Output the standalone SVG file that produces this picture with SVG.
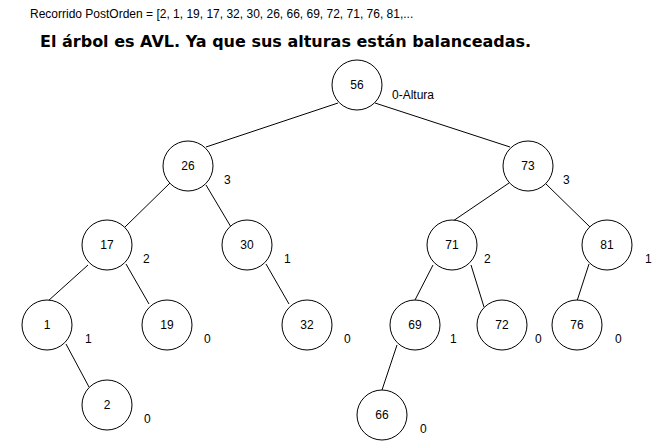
<svg xmlns="http://www.w3.org/2000/svg" width="653" height="441" viewBox="0 0 653 441">
<style>
.n circle{fill:#fff;stroke:#000;stroke-width:1}
.n text{font-family:"Liberation Sans",Arial,sans-serif;font-size:12px;text-anchor:middle;dominant-baseline:central;fill:#000}
.h{font-family:"Liberation Sans",Arial,sans-serif;font-size:12px;fill:#000}
#edges line{stroke:#000;stroke-width:1}
</style>
<rect width="653" height="441" fill="#fff"/>
<text x="30" y="18" style="font-family:'Liberation Sans',Arial,sans-serif;font-size:12px">Recorrido PostOrden = [2, 1, 19, 17, 32, 30, 26, 66, 69, 72, 71, 76, 81,...</text>
<text x="40" y="47" style="font-family:'DejaVu Sans',sans-serif;font-size:16px;font-weight:bold">El árbol es AVL. Ya que sus alturas están balanceadas.</text>
<g id="edges">
<line x1="338" y1="103" x2="206" y2="147"/>
<line x1="375" y1="103" x2="510" y2="147"/>
<line x1="170" y1="183" x2="125" y2="227"/>
<line x1="206" y1="185" x2="231" y2="227"/>
<line x1="509" y1="183" x2="453" y2="221"/>
<line x1="545" y1="183" x2="590" y2="227"/>
<line x1="88" y1="265" x2="48" y2="301"/>
<line x1="126" y1="264" x2="149" y2="304"/>
<line x1="266" y1="264" x2="289" y2="304"/>
<line x1="433" y1="265" x2="415" y2="300"/>
<line x1="471" y1="265" x2="484" y2="307"/>
<line x1="589" y1="264" x2="577" y2="301"/>
<line x1="66" y1="344" x2="89" y2="387"/>
<line x1="397" y1="345" x2="382" y2="390"/>
</g>
<g id="n56" class="n"><circle cx="357" cy="85" r="25"/><text x="357" y="85">56</text></g>
<g id="n26" class="n"><circle cx="188" cy="166" r="25"/><text x="188" y="166">26</text></g>
<g id="n73" class="n"><circle cx="528" cy="166" r="25"/><text x="528" y="166">73</text></g>
<g id="n17" class="n"><circle cx="107" cy="245" r="25"/><text x="107" y="245">17</text></g>
<g id="n30" class="n"><circle cx="247" cy="245" r="25"/><text x="247" y="245">30</text></g>
<g id="n71" class="n"><circle cx="452" cy="245" r="25"/><text x="452" y="245">71</text></g>
<g id="n81" class="n"><circle cx="607" cy="245" r="25"/><text x="607" y="245">81</text></g>
<g id="n1" class="n"><circle cx="47" cy="325" r="25"/><text x="47" y="325">1</text></g>
<g id="n19" class="n"><circle cx="167" cy="325" r="25"/><text x="167" y="325">19</text></g>
<g id="n32" class="n"><circle cx="307" cy="325" r="25"/><text x="307" y="325">32</text></g>
<g id="n69" class="n"><circle cx="415" cy="325" r="25"/><text x="415" y="325">69</text></g>
<g id="n72" class="n"><circle cx="502" cy="325" r="25"/><text x="502" y="325">72</text></g>
<g id="n76" class="n"><circle cx="577" cy="325" r="25"/><text x="577" y="325">76</text></g>
<g id="n2" class="n"><circle cx="107" cy="405" r="25"/><text x="107" y="405">2</text></g>
<g id="n66" class="n"><circle cx="382" cy="415" r="25"/><text x="382" y="415">66</text></g>
<g id="heights">
<text class="h" x="392" y="99">0-Altura</text>
<text class="h" x="224" y="184">3</text>
<text class="h" x="563" y="184">3</text>
<text class="h" x="143" y="263">2</text>
<text class="h" x="284" y="263">1</text>
<text class="h" x="484" y="263">2</text>
<text class="h" x="645" y="263">1</text>
<text class="h" x="85" y="343">1</text>
<text class="h" x="204" y="343">0</text>
<text class="h" x="344" y="343">0</text>
<text class="h" x="450" y="343">1</text>
<text class="h" x="535" y="343">0</text>
<text class="h" x="615" y="343">0</text>
<text class="h" x="144" y="423">0</text>
<text class="h" x="420" y="433">0</text>
</g>
</svg>
